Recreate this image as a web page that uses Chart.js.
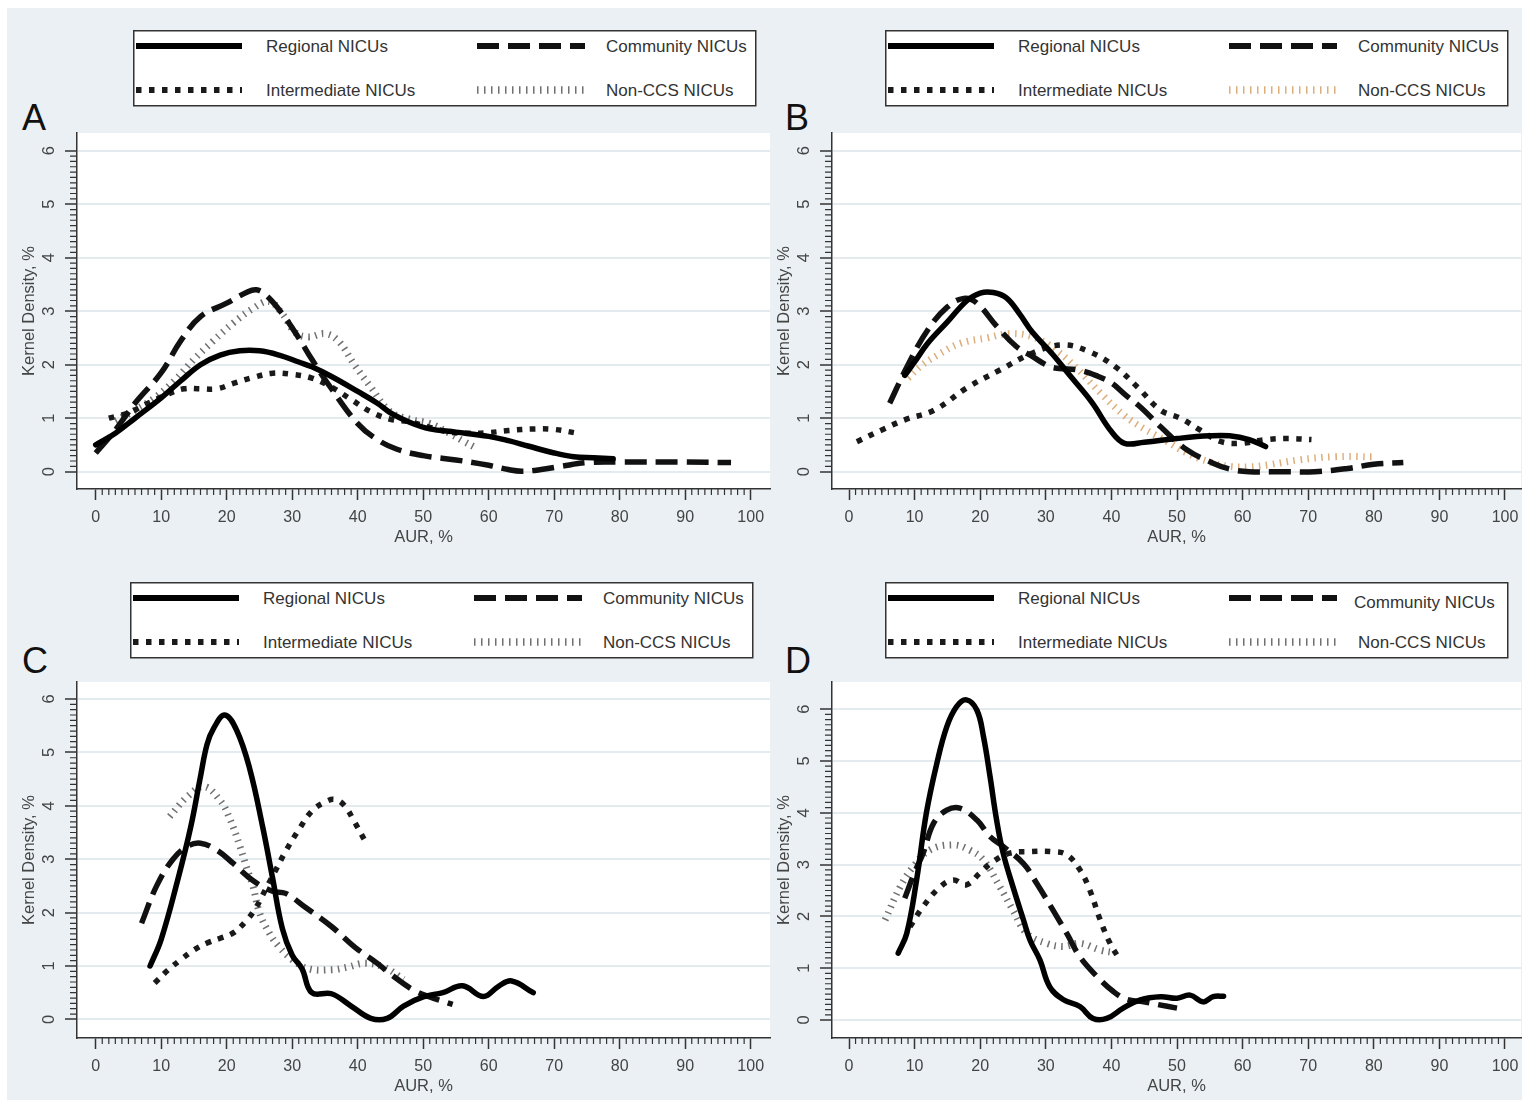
<!DOCTYPE html>
<html>
<head>
<meta charset="utf-8">
<script src="https://cdn.jsdelivr.net/npm/chart.js@4.4.1/dist/chart.umd.min.js"></script>
<style>
html,body{margin:0;overflow:hidden;background:#fff;}
#bg{position:absolute;left:7px;top:8px;width:1515px;height:1092px;background:#eaf0f3;}
#over{position:absolute;left:0;top:0;}
canvas{position:absolute;}
</style>
</head>
<body>
<div id="bg"></div>
<svg id="over" width="1522" height="1100"></svg>
<script>
// group names and tick labels
const groupNames = ['Regional NICUs', 'Community NICUs', 'Intermediate NICUs', 'Non-CCS NICUs'];
const panelLetters = ['A', 'B', 'C', 'D'];
const xTicks = [0, 10, 20, 30, 40, 50, 60, 70, 80, 90, 100];
const yTicks = [0, 1, 2, 3, 4, 5, 6];
const xTitle = 'AUR, %';
const yTitle = 'Kernel Density, %';

// panel A  [AUR %, density %]
const regionalA = [[0,0.5],[3,0.72],[6,1.0],[10,1.38],[13,1.7],[16,2.0],[19,2.18],[22,2.26],[25,2.26],[28,2.18],[31,2.05],[33,1.96],[36,1.78],[40,1.5],[43,1.28],[45,1.1],[48,0.92],[51,0.8],[55,0.74],[60,0.66],[63,0.58],[66,0.48],[70,0.35],[73,0.28],[76,0.26],[79,0.24]];
const communityA = [[0,0.35],[3,0.78],[6,1.28],[10,1.85],[13,2.45],[16,2.9],[20,3.15],[23,3.35],[24.5,3.4],[26,3.3],[28.5,2.95],[31,2.5],[33,2.1],[36,1.55],[40,0.9],[43,0.6],[46,0.42],[50,0.3],[55,0.22],[60,0.12],[63,0.04],[65,0.01],[68,0.04],[71,0.1],[75,0.17],[80,0.18],[90,0.18],[97,0.17]];
const intermediateA = [[2,1.0],[5,1.1],[8,1.28],[11,1.45],[13.5,1.55],[16,1.55],[18.5,1.55],[21,1.65],[24,1.76],[27,1.84],[30,1.82],[33,1.75],[36,1.58],[39,1.35],[42,1.12],[45,0.98],[48,0.93],[51,0.83],[54,0.74],[57,0.72],[60,0.73],[63,0.77],[67,0.8],[70,0.79],[73.5,0.72]];
const nonCcsA = [[3,0.95],[6,1.15],[9,1.38],[12,1.7],[15,2.1],[18,2.45],[21,2.78],[24,3.05],[26.5,3.18],[28.5,2.95],[30.5,2.6],[32.5,2.52],[35,2.58],[37,2.45],[39.5,2.0],[42,1.58],[45,1.12],[48,0.98],[51,0.9],[54,0.72],[56,0.58],[58,0.45]];

// panel B
const regionalB = [[8.5,1.8],[10,2.05],[12,2.4],[15,2.8],[18,3.2],[20,3.34],[22,3.35],[24,3.25],[26,2.95],[28,2.6],[31,2.2],[34,1.75],[37,1.3],[40,0.75],[42,0.53],[45,0.55],[50,0.62],[55,0.67],[58,0.67],[61,0.6],[63.5,0.47]];
const communityB = [[6.2,1.28],[9,2.0],[12,2.65],[15,3.08],[17.5,3.24],[19.5,3.15],[22.5,2.72],[25.5,2.34],[28,2.15],[30.5,1.97],[32,1.93],[35,1.9],[38,1.78],[40,1.66],[42,1.45],[44.5,1.2],[47.5,0.84],[51.5,0.41],[55.5,0.16],[58,0.05],[61,0.0],[66,0.0],[71,0.0],[76,0.06],[80,0.14],[84.5,0.17]];
const intermediateB = [[1.2,0.56],[5,0.78],[8.5,0.97],[13,1.15],[18,1.57],[23,1.9],[28,2.22],[32.5,2.37],[36.5,2.25],[40.5,1.97],[44,1.58],[47.5,1.15],[50.5,1.0],[53.5,0.78],[56.5,0.57],[59.5,0.53],[63.5,0.6],[67,0.62],[70.5,0.6]];
const nonCcsB = [[9,1.75],[11,1.98],[13.5,2.18],[17,2.4],[21,2.5],[24.5,2.58],[28,2.52],[31.5,2.28],[35,1.9],[38.5,1.45],[42,1.05],[45,0.8],[48,0.6],[51.5,0.35],[55,0.18],[58,0.1],[61,0.09],[64,0.13],[68.5,0.22],[74,0.28],[80,0.28]];

// panel C
const regionalC = [[8.3,1.0],[10,1.5],[12.5,2.6],[14.5,3.6],[16,4.55],[17,5.15],[18,5.45],[19.7,5.7],[21.5,5.42],[23.5,4.7],[25.5,3.6],[27,2.65],[28.5,1.7],[30,1.2],[31.5,0.95],[33,0.5],[36,0.48],[39,0.25],[42,0.02],[44.5,0.02],[47,0.25],[50,0.42],[53,0.5],[56,0.63],[59.2,0.43],[61.5,0.62],[63.5,0.72],[66.8,0.5]];
const communityC = [[7,1.8],[9.3,2.5],[11.8,3.0],[14,3.24],[16,3.3],[18.5,3.17],[21,2.92],[24,2.6],[27,2.4],[29,2.36],[32,2.1],[36,1.74],[39.5,1.36],[43,1.05],[45,0.85],[48.5,0.55],[51,0.42],[54.5,0.28]];
const intermediateC = [[9,0.68],[11,0.92],[13,1.12],[15,1.3],[17,1.43],[19,1.52],[21,1.62],[23,1.85],[24.5,2.1],[26,2.45],[27.5,2.8],[29,3.15],[31,3.55],[33,3.9],[35,4.07],[36.5,4.12],[38,4.0],[39.5,3.7],[41.3,3.3]];
const nonCcsC = [[11.3,3.8],[14,4.17],[16.5,4.36],[19,4.1],[20.5,3.75],[22,3.25],[23,2.86],[24,2.5],[25,2.0],[26.5,1.62],[28,1.36],[30,1.12],[32.5,0.95],[36,0.93],[38.5,0.98],[41,1.05],[44,0.98],[47,0.75]];

// panel D
const regionalD = [[7.5,1.29],[8.8,1.67],[10.3,2.7],[11.8,4.0],[13.4,4.96],[14.9,5.66],[16.4,6.05],[17.9,6.18],[19.5,5.98],[20.5,5.47],[21.5,4.7],[22.5,3.86],[23.5,3.22],[25,2.57],[26.6,1.93],[27.6,1.54],[29.1,1.16],[30.6,0.64],[32.7,0.39],[35.2,0.26],[37.2,0.03],[39.3,0.03],[41.8,0.23],[44.4,0.39],[47.5,0.45],[50,0.42],[52,0.48],[54,0.35],[55.5,0.45],[57.1,0.46]];
const communityD = [[8.5,2.35],[10,2.85],[11.3,3.22],[12.9,3.8],[14.9,4.05],[16.9,4.09],[19.5,3.86],[21.5,3.54],[23.5,3.35],[26.6,3.02],[28.6,2.64],[31.1,2.12],[33.2,1.67],[35.2,1.22],[37.8,0.84],[40.3,0.55],[42.3,0.4],[44.9,0.35],[47,0.3],[50,0.23]];
const intermediateD = [[9.3,1.8],[11.3,2.19],[13.9,2.57],[15.9,2.7],[17.9,2.61],[19.9,2.83],[22,3.06],[24.5,3.22],[27.6,3.25],[31.1,3.25],[33.2,3.19],[35.2,2.9],[36.7,2.51],[38.3,1.93],[39.8,1.48],[41.3,1.16]];
const nonCcsD = [[5.5,1.93],[7.8,2.57],[9.8,2.96],[12.3,3.28],[15.9,3.38],[18.4,3.28],[20.5,3.09],[23,2.57],[25,2.12],[27.1,1.67],[30.1,1.48],[32.7,1.42],[35.2,1.48],[38.3,1.35],[40.5,1.3]];

const FONT = 'Liberation Sans';
const INK = '#444';

// line looks, same order as groupNames
const looks = [
  {w: 5.5, dash: [], cap: 'round', color: '#000'},
  {w: 5.5, dash: [22, 9], cap: 'butt', color: '#111'},
  {w: 5.5, dash: [5.5, 7.5], cap: 'butt', color: '#1a1a1a'},
  {w: 7, dash: [1.5, 5.5], cap: 'butt', color: null} // colour set per panel
];

// plot area in page px, plus where 0 sits and px per unit on each axis
const panels = [
  {area: {l: 77, t: 133, r: 770, b: 489}, x0: 95.7, xs: 6.55, y0: 471.7, ys: 53.5,
   series: [regionalA, communityA, intermediateA, nonCcsA], non: '#707070', leg: [133, 30], letter: [22, 130]},
  {area: {l: 832, t: 133, r: 1521, b: 489}, x0: 849, xs: 6.56, y0: 471.7, ys: 53.5,
   series: [regionalB, communityB, intermediateB, nonCcsB], non: '#dcae7c', leg: [885, 30], letter: [785, 130]},
  {area: {l: 77, t: 682, r: 770, b: 1038}, x0: 95.7, xs: 6.55, y0: 1019.4, ys: 53.4,
   series: [regionalC, communityC, intermediateC, nonCcsC], non: '#707070', leg: [130, 582], letter: [22, 673]},
  {area: {l: 832, t: 682, r: 1521, b: 1038}, x0: 849, xs: 6.56, y0: 1020, ys: 51.8,
   series: [regionalD, communityD, intermediateD, nonCcsD], non: '#707070', leg: [885, 582], letter: [785, 673], shiftCommunity: true}
];

const NS = 'http://www.w3.org/2000/svg';
const svg = document.getElementById('over');
function el(tag, attrs, text) {
  const e = document.createElementNS(NS, tag);
  for (const k in attrs) e.setAttribute(k, attrs[k]);
  if (text !== undefined) e.textContent = text;
  svg.appendChild(e);
  return e;
}

function drawLegend(p) {
  const [bx, by] = p.leg;
  el('rect', {x: bx + 0.75, y: by + 0.75, width: 622, height: 75, fill: '#fff', stroke: '#333', 'stroke-width': 1.5});
  const slots = [[0, 0], [1, 0], [0, 1], [1, 1]];
  slots.forEach(([col, row], i) => {
    const lk = looks[i];
    const yy = by + (row ? 60 : 16);
    const sx = bx + (col ? 344 : 3), ex = bx + (col ? 452 : 109);
    el('line', {x1: sx, y1: yy, x2: ex, y2: yy, stroke: lk.color || p.non, 'stroke-width': lk.w + 0.5,
      'stroke-dasharray': lk.dash.length ? lk.dash.join(' ') : 'none', 'stroke-linecap': 'butt'});
    let tx = bx + (col ? 473 : 133), ty = yy + 6;
    if (p.shiftCommunity && i === 1) { tx -= 4; ty += 4; }
    el('text', {x: tx, y: ty, 'font-family': FONT, 'font-size': 17, fill: '#333'}, groupNames[i]);
  });
}

const plotBg = {
  id: 'plotBg',
  beforeDraw(chart) {
    const {ctx, chartArea: a} = chart;
    ctx.save();
    ctx.fillStyle = '#fff';
    ctx.fillRect(a.left, a.top, a.right - a.left, a.bottom - a.top);
    ctx.restore();
  }
};

const axisExtras = {
  id: 'axisExtras',
  afterDraw(chart) {
    const {ctx, chartArea: a, scales: {x, y}} = chart;
    ctx.save();
    ctx.strokeStyle = '#333';
    ctx.lineWidth = 1.2;
    ctx.beginPath();
    for (let v = 1; v < 100; v++) {
      if (v % 10 === 0) continue;
      const px = x.getPixelForValue(v);
      ctx.moveTo(px, a.bottom);
      ctx.lineTo(px, a.bottom + 6);
    }
    for (let i = 1; i < 60; i++) {
      if (i % 10 === 0) continue;
      const py = y.getPixelForValue(i / 10);
      ctx.moveTo(a.left, py);
      ctx.lineTo(a.left - 7, py);
    }
    ctx.stroke();
    // rotated y tick labels
    ctx.fillStyle = INK;
    ctx.font = '16.5px "' + FONT + '"';
    ctx.textAlign = 'center';
    ctx.textBaseline = 'middle';
    yTicks.forEach(v => {
      ctx.save();
      ctx.translate(a.left - 29, y.getPixelForValue(v));
      ctx.rotate(-Math.PI / 2);
      ctx.fillText(String(v), 0, 1);
      ctx.restore();
    });
    ctx.restore();
  }
};

panels.forEach((p, k) => {
  drawLegend(p);
  el('text', {x: p.letter[0], y: p.letter[1], 'font-family': FONT, 'font-size': 36, fill: '#111'}, panelLetters[k]);

  const a = p.area;
  const padTop = 8, padRight = 20, yW = 70, xH = 72;
  const cv = document.createElement('canvas');
  cv.width = (a.r - a.l) + yW + padRight;
  cv.height = (a.b - a.t) + padTop + xH;
  cv.style.left = (a.l - yW) + 'px';
  cv.style.top = (a.t - padTop) + 'px';
  document.body.appendChild(cv);

  const xmin = (a.l - p.x0) / p.xs, xmax = (a.r - p.x0) / p.xs;
  const ymin = (p.y0 - a.b) / p.ys, ymax = (p.y0 - a.t) / p.ys;

  const datasets = p.series.map((pts, i) => {
    const lk = looks[i];
    return {
      label: groupNames[i],
      data: pts.map(([vx, vy]) => ({x: vx, y: vy})),
      borderColor: lk.color || p.non,
      borderWidth: lk.w,
      borderDash: lk.dash,
      borderCapStyle: lk.cap,
      borderJoinStyle: 'round',
      tension: 0.4,
      fill: false,
      pointRadius: 0
    };
  });

  new Chart(cv, {
    type: 'line',
    data: {datasets},
    options: {
      responsive: false,
      animation: false,
      layout: {padding: {left: 0, top: padTop, right: padRight, bottom: 0}},
      plugins: {legend: {display: false}, tooltip: {enabled: false}},
      scales: {
        x: {
          type: 'linear', min: xmin, max: xmax,
          afterBuildTicks: s => { s.ticks = xTicks.map(v => ({value: v})); },
          afterFit: s => { s.height = xH; },
          grid: {drawOnChartArea: false, drawTicks: true, tickLength: 11, tickColor: '#333', tickWidth: 1.5},
          border: {display: true, color: '#333', width: 1.5},
          ticks: {color: INK, font: {family: FONT, size: 16}, padding: 8, maxRotation: 0, autoSkip: false},
          title: {display: true, text: xTitle, color: INK, font: {family: FONT, size: 16.5}, padding: {top: 0, bottom: 14}}
        },
        y: {
          type: 'linear', min: ymin, max: ymax,
          afterBuildTicks: s => { s.ticks = yTicks.map(v => ({value: v})); },
          afterFit: s => { s.width = yW; },
          grid: {color: '#e4ebee', lineWidth: 2, drawTicks: true, tickLength: 12, tickColor: '#333', tickWidth: 1.5},
          border: {display: true, color: '#333', width: 1.5},
          ticks: {display: false},
          title: {display: true, text: yTitle, color: INK, font: {family: FONT, size: 16.5}, padding: {top: 13, bottom: 0}}
        }
      }
    },
    plugins: [plotBg, axisExtras]
  });
});
</script>
</body>
</html>
